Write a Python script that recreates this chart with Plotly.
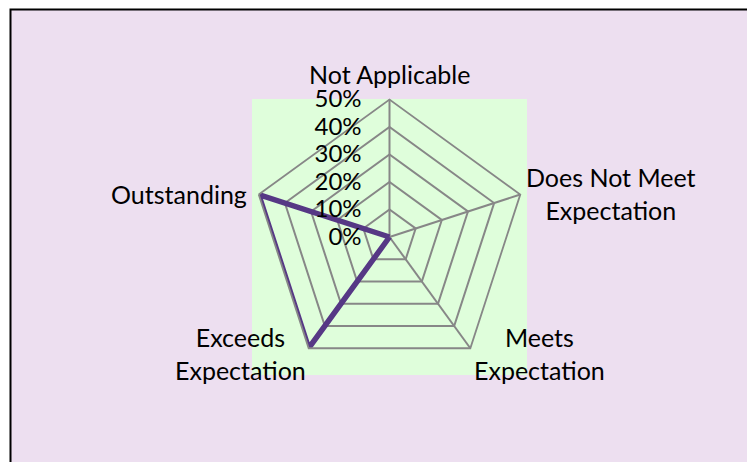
import math
import plotly.graph_objects as go

categories = ["Not Applicable", "Does Not Meet<br>Expectation", "Meets<br>Expectation",
              "Exceeds<br>Expectation", "Outstanding"]
values = [0.0, 0.0, 0.0, 0.5, 0.5]
radial_ticks = [0, 0.1, 0.2, 0.3, 0.4, 0.5]

# page has an 8px body margin, so the figure is sized to fit inside it
OFF = 8
W, H = 755 - OFF, 462 - OFF
LAV = "#EDDFF0"
GREEN = "#DFFEDB"
GRID = "#878787"
PURPLE = "#563885"
FONT = "Lato"
FS = 25


def px(p):
    return (p - OFF) / W


def py(p):
    return 1 - (p - OFF) / H


fig = go.Figure()
fig.add_trace(go.Scatterpolar(
    r=values + values[:1],
    theta=categories + categories[:1],
    mode="lines",
    line=dict(color=PURPLE, width=5.5),
    showlegend=False,
    hoverinfo="skip",
))

# polar domain in page pixels
L, R_, T, B = 252, 527, 99, 375
dx0, dx1 = px(L), px(R_)
dy0, dy1 = py(B), py(T)
cx, cy = (L + R_) / 2, (T + B) / 2
rad = min(R_ - L, B - T) / 2

# category label placement relative to each outer vertex (page px)
label_style = [
    dict(xanchor="center", dx=0, dy=-25),
    dict(xanchor="left", dx=5, dy=-1),
    dict(xanchor="left", dx=3, dy=5),
    dict(xanchor="right", dx=-2, dy=5),
    dict(xanchor="right", dx=-11, dy=-1),
]
annotations = []
n = len(categories)
for k, (cat, st) in enumerate(zip(categories, label_style)):
    th = math.radians(90 - 360 * k / n)
    vx = cx + rad * math.cos(th)
    vy = cy - rad * math.sin(th)
    annotations.append(dict(
        text=cat, xref="paper", yref="paper",
        x=px(vx + st["dx"]), y=py(vy + st["dy"]),
        xanchor=st["xanchor"], yanchor="middle", align="center",
        showarrow=False, borderpad=0,
        font=dict(family=FONT, size=FS, color="black"),
    ))

fig.update_layout(
    width=W, height=H,
    margin=dict(l=0, r=0, t=0, b=0),
    paper_bgcolor="white",
    font=dict(family=FONT, size=FS, color="black"),
    polar=dict(
        domain=dict(x=[dx0, dx1], y=[dy0, dy1]),
        bgcolor=GREEN,
        gridshape="linear",
        angularaxis=dict(
            direction="clockwise",
            rotation=90,
            showline=True,
            linecolor=GRID,
            linewidth=1.8,
            gridcolor=GRID,
            gridwidth=1.8,
            ticks="",
            showticklabels=False,
        ),
        radialaxis=dict(
            range=[0, 0.5],
            tickvals=radial_ticks,
            tickformat=".0%",
            angle=90,
            side="counterclockwise",
            showline=False,
            gridcolor=GRID,
            gridwidth=1.8,
            ticks="outside",
            ticklen=19,
            tickcolor="rgba(0,0,0,0)",
            tickangle=90,
            tickfont=dict(family=FONT, size=24, color="black"),
        ),
    ),
    annotations=annotations,
    shapes=[
        dict(type="rect", xref="paper", yref="paper", layer="below",
             x0=px(10.5), x1=1.2, y0=-0.2, y1=py(9.5),
             fillcolor=LAV, line=dict(color="black", width=2)),
        dict(type="rect", xref="paper", yref="paper", layer="below",
             x0=dx0, x1=dx1, y0=dy0, y1=dy1,
             fillcolor=GREEN, line=dict(width=0)),
    ],
)

fig.write_html("out.html")
